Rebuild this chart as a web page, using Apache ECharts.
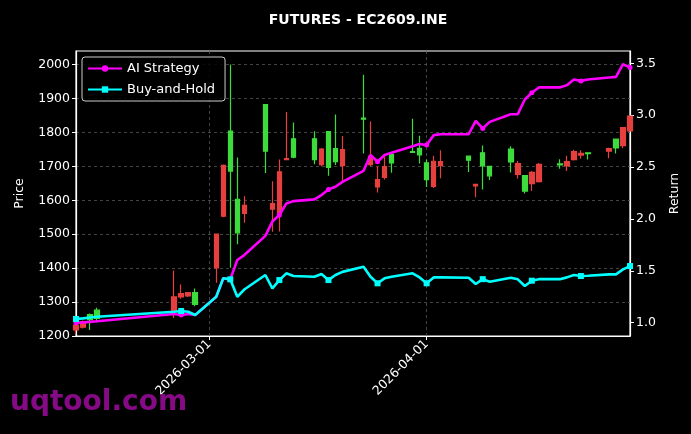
<!DOCTYPE html>
<html>
<head>
<meta charset="utf-8">
<script src="https://cdn.jsdelivr.net/npm/echarts@6/dist/echarts.min.js"></script>
<style>
html,body{margin:0;padding:0;background:#000;}
#c{width:691px;height:434px;}
</style>
</head>
<body>
<div id="c"></div>
<script>
// ---- data ----
const dates = ['2026-02-10','2026-02-11','2026-02-12','2026-02-13','2026-02-24','2026-02-25','2026-02-26','2026-02-27',
  '2026-03-02','2026-03-03','2026-03-04','2026-03-05','2026-03-06','2026-03-09','2026-03-10','2026-03-11','2026-03-12','2026-03-13',
  '2026-03-16','2026-03-17','2026-03-18','2026-03-19','2026-03-20','2026-03-23','2026-03-24','2026-03-25','2026-03-26','2026-03-27',
  '2026-03-30','2026-03-31','2026-04-01','2026-04-02','2026-04-03','2026-04-07','2026-04-08','2026-04-09','2026-04-10',
  '2026-04-13','2026-04-14','2026-04-15','2026-04-16','2026-04-17','2026-04-20','2026-04-21','2026-04-22','2026-04-23','2026-04-24',
  '2026-04-27','2026-04-28','2026-04-29','2026-04-30'];
const opens  = [1218,1226,1263,1276,1273,1315,1318,1328,1401,1553,1804,1603,1561,1882,1574,1562,1720,1781,1781,1705,1802,1752,1702,1842,1705,1639,1667,1735,1743,1753,1710,1641,1702,1730,1642,1740,1700,1751,1676,1673,1649,1655,1707,1701,1720,1733,1740,1745,1780,1761,1804];
const closes = [1232,1242,1248,1252,1315,1325,1328,1293,1500,1703,1686,1504,1585,1745,1590,1684,1723,1727,1720,1751,1697,1714,1749,1839,1730,1661,1699,1710,1741,1734,1661,1715,1714,1718,1647,1701,1672,1713,1708,1627,1682,1706,1704,1714,1743,1738,1737,1752,1754,1814,1848];
const lows   = [1205,1222,1218,1240,1253,1310,1315,1288,1357,1550,1401,1470,1534,1680,1507,1508,1720,1724,1706,1700,1672,1704,1655,1738,1700,1623,1661,1681,1741,1708,1639,1636,1665,1683,1609,1632,1660,1682,1664,1620,1627,1652,1693,1686,1717,1722,1720,1724,1738,1753,1804];
const highs  = [1236,1246,1266,1283,1393,1352,1330,1340,1502,1705,2000,1726,1612,1882,1656,1720,1860,1829,1803,1754,1802,1853,1789,1970,1832,1700,1733,1738,1840,1790,1720,1731,1747,1730,1648,1761,1700,1759,1716,1673,1686,1710,1721,1731,1749,1747,1740,1755,1781,1814,1850];
const aiReturn = [1.0,1.003,1.008,1.014,1.084,1.074,1.084,1.074,1.25,1.428,1.418,1.604,1.652,1.837,1.975,2.038,2.15,2.172,2.189,2.23,2.285,2.31,2.358,2.464,2.616,2.551,2.616,2.638,2.702,2.722,2.712,2.808,2.817,2.818,2.946,2.873,2.936,3.01,3.01,3.152,3.216,3.268,3.268,3.29,3.345,3.331,3.345,3.364,3.37,3.492,3.46];
const bhReturn = [1.036,1.042,1.05,1.058,1.106,1.113,1.106,1.074,1.25,1.428,1.418,1.25,1.32,1.46,1.331,1.411,1.476,1.45,1.443,1.469,1.411,1.46,1.49,1.54,1.443,1.38,1.428,1.443,1.476,1.437,1.38,1.437,1.437,1.434,1.373,1.42,1.395,1.434,1.418,1.354,1.405,1.42,1.42,1.437,1.46,1.45,1.453,1.466,1.466,1.514,1.546];
const priceTicks = [1200,1300,1400,1500,1600,1700,1800,1900,2000];
const returnTicks = [1.0,1.5,2.0,2.5,3.0,3.5];
const dateTicks = ['2026-03-01','2026-04-01'];

// ---- build ----
const ts = s => { const p = s.split('-').map(Number); return new Date(p[0], p[1]-1, p[2]).getTime(); };
const candleData = dates.map((d,i)=>[ts(d), opens[i], closes[i], lows[i], highs[i]]);
const aiData = dates.map((d,i)=>[ts(d), aiReturn[i]]);
const bhData = dates.map((d,i)=>[ts(d), bhReturn[i]]);
const FONT = 'DejaVu Sans';
const pad = n => (n<10?'0':'')+n;
const fmtDate = v => { const d = new Date(v); return d.getFullYear()+'-'+pad(d.getMonth()+1)+'-'+pad(d.getDate()); };
const dateTickVals = dateTicks.map(ts);

const chart = echarts.init(document.getElementById('c'), null, {renderer:'canvas'});
chart.setOption({
  backgroundColor:'#000',
  animation:false,
  textStyle:{fontFamily:FONT},
  title:{text:'FUTURES - EC2609.INE', left:353, top:8, textAlign:'center',
    textStyle:{color:'#fff', fontSize:14, fontWeight:'bold', fontFamily:FONT}},
  graphic:[{type:'text', left:10, top:389, z:100,
    style:{text:'uqtool.com', fill:'#860a86', font:'bold 28px "DejaVu Sans"'}}],
  legend:{left:82, top:57, orient:'vertical', padding:[5,10,5,5], itemWidth:34, itemHeight:8, itemGap:8,
    backgroundColor:'rgba(0,0,0,0.85)', borderColor:'#cccccc', borderWidth:1, borderRadius:3,
    textStyle:{color:'#fff', fontSize:13, fontFamily:FONT},
    data:['AI Strategy','Buy-and-Hold']},
  grid:{left:76, right:61, top:51, bottom:98, show:true, borderColor:'#fff', borderWidth:1.2, containLabel:false},
  xAxis:{type:'value', min:ts('2026-02-10'), max:ts('2026-04-30'), scale:true,
    axisLine:{show:true, onZero:false, lineStyle:{color:'#fff', width:1.2}},
    axisTick:{show:true, length:4, lineStyle:{color:'#fff'}, customValues:dateTickVals},
    axisLabel:{color:'#fff', fontSize:12.5, fontFamily:FONT, rotate:45, margin:6, customValues:dateTickVals, formatter:v=>fmtDate(v)},
    splitLine:{show:true, lineStyle:{color:'#555', type:[3,3], width:0.8}}},
  yAxis:[
    {type:'value', min:1200, max:2039.8, position:'left', name:'Price', nameLocation:'middle', nameGap:50,
     nameTextStyle:{color:'#fff', fontSize:12.5, fontFamily:FONT},
     axisLine:{show:true, onZero:false, lineStyle:{color:'#fff', width:1.2}},
     axisTick:{show:true, length:4, lineStyle:{color:'#fff'}, customValues:priceTicks},
     axisLabel:{color:'#fff', fontSize:12.5, fontFamily:FONT, margin:6, customValues:priceTicks, formatter:v=>String(Math.round(v))},
     splitLine:{show:true, lineStyle:{color:'#555', type:[3,3], width:0.8}}},
    {type:'value', min:0.872, max:3.619, position:'right', name:'Return', nameLocation:'middle', nameGap:38, nameRotate:90,
     nameTextStyle:{color:'#fff', fontSize:12.5, fontFamily:FONT},
     axisLine:{show:true, onZero:false, lineStyle:{color:'#fff', width:1.2}},
     axisTick:{show:true, length:4, lineStyle:{color:'#fff'}, customValues:returnTicks},
     axisLabel:{color:'#fff', fontSize:12.5, fontFamily:FONT, margin:6, customValues:returnTicks, formatter:v=>Number(v).toFixed(1)},
     splitLine:{show:false}}
  ],
  series:[
    {type:'candlestick', name:'Price', yAxisIndex:0, barWidth:5, data:candleData,
     itemStyle:{color:'#e5403f', color0:'#3cdc3c', borderColor:'#e5403f', borderColor0:'#3cdc3c', borderWidth:1.2}},
    {type:'line', name:'AI Strategy', yAxisIndex:1, data:aiData, showAllSymbol:true,
     symbol:'circle', symbolSize:(v,p)=> (p.dataIndex%5===0?5:0),
     lineStyle:{color:'#ff00ff', width:2.6}, itemStyle:{color:'#ff00ff'}, z:3},
    {type:'line', name:'Buy-and-Hold', yAxisIndex:1, data:bhData, showAllSymbol:true,
     symbol:'rect', symbolSize:(v,p)=> (p.dataIndex%5===0?6:0),
     lineStyle:{color:'#00ffff', width:2.6}, itemStyle:{color:'#00ffff'}, z:4}
  ]
});
</script>
</body>
</html>
